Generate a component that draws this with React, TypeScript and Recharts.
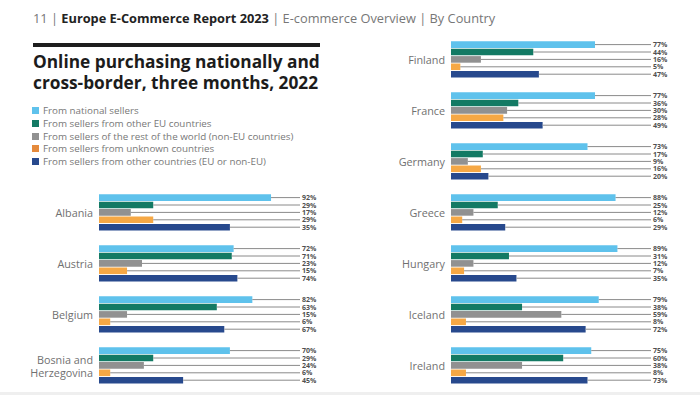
import React from "react";
import { BarChart, Bar, XAxis, YAxis, LabelList } from "recharts";

const leftCountries = ["Albania", "Austria", "Belgium", "Bosnia and Herzegovina"];
const leftNational = [92, 72, 82, 70];
const leftOtherEU = [29, 71, 63, 29];
const leftNonEU = [17, 23, 15, 24];
const leftUnknown = [29, 15, 6, 6];
const leftOther = [70, 74, 67, 45];
const leftOtherPrinted = ["35%", "74%", "67%", "45%"];

const rightCountries = ["Finland", "France", "Germany", "Greece", "Hungary", "Iceland", "Ireland"];
const rightNational = [77, 77, 73, 88, 89, 79, 75];
const rightOtherEU = [44, 36, 17, 25, 31, 38, 60];
const rightNonEU = [16, 30, 9, 12, 12, 59, 38];
const rightUnknown = [5, 28, 16, 6, 7, 8, 8];
const rightOther = [47, 49, 20, 29, 35, 72, 73];

const seriesNames = [
  "From national sellers",
  "From sellers from other EU countries",
  "From sellers of the rest of the world (non-EU countries)",
  "From sellers from unknown countries",
  "From sellers from other countries (EU or non-EU)",
];
const seriesKeys = ["national", "otherEU", "nonEU", "unknown", "other"];
const seriesColors = ["#5fc2ec", "#137a64", "#919191", "#f6a845", "#27498d"];
const legendColors = ["#5fc2ec", "#137a64", "#919191", "#e58a3c", "#27498d"];

const FONT = "'Open Sans', 'Noto Sans', sans-serif";

function buildRows(
  countries: string[],
  a: number[],
  b: number[],
  c: number[],
  d: number[],
  e: number[],
  ePrinted?: string[]
) {
  return countries.map((name, i) => ({
    name,
    national: a[i],
    otherEU: b[i],
    nonEU: c[i],
    unknown: d[i],
    other: e[i],
    labels: {
      national: a[i] + "%",
      otherEU: b[i] + "%",
      nonEU: c[i] + "%",
      unknown: d[i] + "%",
      other: ePrinted ? ePrinted[i] : e[i] + "%",
    } as Record<string, string>,
  }));
}

const leftRows = buildRows(leftCountries, leftNational, leftOtherEU, leftNonEU, leftUnknown, leftOther, leftOtherPrinted);
const rightRows = buildRows(rightCountries, rightNational, rightOtherEU, rightNonEU, rightUnknown, rightOther);

const CountryTick = (props: any) => {
  const { x, y, payload } = props;
  const text: string = payload.value;
  let lines = [text];
  if (text.length > 12) {
    const idx = text.lastIndexOf(" ");
    lines = [text.slice(0, idx), text.slice(idx + 1)];
  }
  const lh = 12.7;
  const start = y - ((lines.length - 1) * lh) / 2;
  return (
    <g>
      {lines.map((l, i) => (
        <text
          key={i}
          x={x}
          y={start + i * lh}
          textAnchor="end"
          dominantBaseline="central"
          fill="#707070"
          fontSize={10.8}
          fontFamily={FONT}
        >
          {l}
        </text>
      ))}
    </g>
  );
};

function makeLabel(key: string, rows: any[], lineEndX: number) {
  return (p: any) => {
    const { x, y, width, height, index } = p;
    const cy = Number(y) + Number(height) / 2;
    const x0 = Number(x) + Number(width);
    return (
      <g>
        <line x1={x0} y1={cy} x2={lineEndX} y2={cy} stroke="#8a8a8a" strokeWidth={1} />
        <text
          x={lineEndX + 2}
          y={cy}
          dominantBaseline="central"
          fontSize={7}
          fontWeight={700}
          fill="#505050"
          fontFamily={FONT}
        >
          {rows[index].labels[key]}
        </text>
      </g>
    );
  };
}

function Panel({
  rows,
  top,
  bandCount,
  plotLeft,
  yAxisWidth,
  lineEndX,
}: {
  rows: any[];
  top: number;
  bandCount: number;
  plotLeft: number;
  yAxisWidth: number;
  lineEndX: number;
}) {
  const plotHeight = bandCount * 51;
  const plotWidth = 187;
  return (
    <div style={{ position: "absolute", left: 0, top: 0 }}>
      <BarChart
        width={700}
        height={395}
        data={rows}
        layout="vertical"
        barSize={6.6}
        barGap={0.8}
        margin={{
          top,
          bottom: 395 - top - plotHeight,
          left: plotLeft - yAxisWidth,
          right: 700 - plotLeft - plotWidth,
        }}
      >
        <XAxis type="number" domain={[0, 100]} hide />
        <YAxis
          type="category"
          dataKey="name"
          width={yAxisWidth}
          axisLine={false}
          tickLine={false}
          tickSize={0}
          tickMargin={6}
          interval={0}
          tick={<CountryTick />}
        />
        {seriesKeys.map((k, i) => (
          <Bar key={k} dataKey={k} name={seriesNames[i]} fill={seriesColors[i]} isAnimationActive={false}>
            <LabelList dataKey={k} content={makeLabel(k, rows, lineEndX)} />
          </Bar>
        ))}
      </BarChart>
    </div>
  );
}

export default function App() {
  return (
    <div
      style={{
        position: "absolute",
        left: 0,
        top: 0,
        width: 700,
        height: 395,
        background: "#ffffff",
        overflow: "hidden",
        fontFamily: FONT,
      }}
    >
      <div
        style={{
          position: "absolute",
          left: 33,
          top: 9,
          fontSize: 12.8,
          color: "#777",
          whiteSpace: "nowrap",
          lineHeight: "18px",
        }}
      >
        11 | <span style={{ fontWeight: 700, color: "#222" }}>Europe E-Commerce Report 2023</span> | E-commerce
        Overview | By Country
      </div>
      <div style={{ position: "absolute", left: 33, top: 43, width: 287, height: 4, background: "#1e1e1e" }} />
      <div
        style={{
          position: "absolute",
          left: 33,
          top: 51,
          fontSize: 17.3,
          fontWeight: 700,
          color: "#1c1c1c",
          lineHeight: "21px",
          whiteSpace: "nowrap",
        }}
      >
        Online purchasing nationally and
        <br />
        cross-border, three months, 2022
      </div>
      {seriesNames.map((n, i) => (
        <div
          key={n}
          style={{
            position: "absolute",
            left: 32,
            top: 104.5 + i * 12.8,
            height: 12,
            display: "flex",
            alignItems: "center",
            fontSize: 9.8,
            color: "#777",
            whiteSpace: "nowrap",
          }}
        >
          <span style={{ display: "inline-block", width: 7, height: 7, background: legendColors[i], marginRight: 4 }} />
          {n}
        </div>
      ))}
      <Panel rows={leftRows} top={187.3} bandCount={4} plotLeft={99} yAxisWidth={99} lineEndX={300} />
      <Panel rows={rightRows} top={34.3} bandCount={7} plotLeft={451} yAxisWidth={100} lineEndX={651} />
      <div style={{ position: "absolute", left: 0, top: 392, width: 700, height: 3, background: "#efefef" }} />
    </div>
  );
}
